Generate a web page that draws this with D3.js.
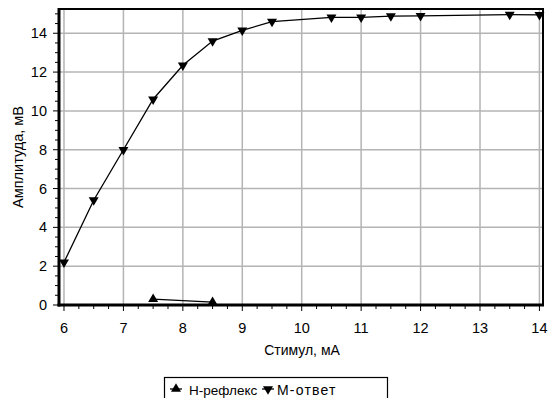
<!DOCTYPE html>
<html>
<head>
<meta charset="utf-8">
<script src="https://cdn.jsdelivr.net/npm/d3@7"></script>
<style>
  html, body { margin: 0; padding: 0; background: #fff; }
  svg { display: block; font-family: "Liberation Sans", Arial, sans-serif; }
</style>
</head>
<body>
<svg id="chart" width="548" height="398"></svg>
<script>
// Stimulus intensity (mA) and response amplitudes (mV)
const hStim = [7.5, 8.5];
const hAmp = [0.3, 0.15];
const mStim = [6, 6.5, 7, 7.5, 8, 8.5, 9, 9.5, 10.5, 11, 11.5, 12, 13.5, 14];
const mAmp = [2.2, 5.4, 8.0, 10.6, 12.35, 13.6, 14.15, 14.6, 14.82, 14.82, 14.88, 14.9, 14.96, 14.95];
const xTicks = [6, 7, 8, 9, 10, 11, 12, 13, 14];
const yTicks = [0, 2, 4, 6, 8, 10, 12, 14];
const seriesNames = ["Н-рефлекс", "М-ответ"];
const xTitle = "Стимул, мА";
const yTitle = "Амплитуда, мВ";

const svg = d3.select("#chart");
const plotL = 59, plotR = 543, plotT = 9, plotB = 305;

const x = d3.scaleLinear().domain([5.916, 14.06]).range([plotL, plotR]);
const y = d3.scaleLinear().domain([0, 15.25]).range([plotB, plotT]);

// grid
const grid = svg.append("g").attr("stroke", "#b4b4b4").attr("stroke-width", 1.5);
grid.selectAll("line.v").data(xTicks).join("line")
  .attr("x1", d => x(d)).attr("x2", d => x(d)).attr("y1", plotT).attr("y2", plotB);
grid.selectAll("line.h").data(yTicks.filter(d => d > 0)).join("line")
  .attr("x1", plotL).attr("x2", plotR).attr("y1", d => y(d)).attr("y2", d => y(d));

// minor ticks
const xMinor = d3.range(6, 14.001, 0.25);
const yMinor = d3.range(0, 15.001, 0.5);
svg.append("g").attr("stroke", "#000").attr("stroke-width", 1)
  .selectAll("line").data(xMinor).join("line")
  .attr("x1", d => x(d)).attr("x2", d => x(d))
  .attr("y1", plotB).attr("y2", d => Number.isInteger(d) ? plotB + 6 : plotB + 4);
svg.append("g").attr("stroke", "#000").attr("stroke-width", 1)
  .selectAll("line").data(yMinor).join("line")
  .attr("y1", d => y(d)).attr("y2", d => y(d))
  .attr("x1", plotL).attr("x2", d => d % 2 === 0 ? plotL - 6 : plotL - 4);

// frame
svg.append("line").attr("x1", plotL).attr("x2", plotR + 1).attr("y1", plotT).attr("y2", plotT)
  .attr("stroke", "#000").attr("stroke-width", 2);
svg.append("line").attr("x1", plotR).attr("x2", plotR).attr("y1", plotT).attr("y2", plotB)
  .attr("stroke", "#000").attr("stroke-width", 2);
svg.append("line").attr("x1", plotL).attr("x2", plotL).attr("y1", plotT - 1).attr("y2", plotB + 1.5)
  .attr("stroke", "#000").attr("stroke-width", 3);
svg.append("line").attr("x1", plotL - 1.5).attr("x2", plotR + 1).attr("y1", plotB).attr("y2", plotB)
  .attr("stroke", "#000").attr("stroke-width", 3);

// tick labels
svg.append("g").selectAll("text").data(xTicks).join("text")
  .attr("x", d => x(d)).attr("y", 333)
  .attr("text-anchor", "middle").attr("font-size", 14.5)
  .text(d => d);
svg.append("g").selectAll("text").data(yTicks).join("text")
  .attr("x", 47).attr("y", d => y(d) + 5)
  .attr("text-anchor", "end").attr("font-size", 14.5)
  .text(d => d);

// axis titles
svg.append("text").attr("x", 302).attr("y", 355)
  .attr("text-anchor", "middle").attr("font-size", 14).text(xTitle);
svg.append("text").attr("transform", "translate(23,157) rotate(-90)")
  .attr("text-anchor", "middle").attr("font-size", 14.5).text(yTitle);

// markers
const tri = (cx, cy, up, s = 10) => {
  const h = s * 0.85;
  return up
    ? `M${cx},${cy - h * 2 / 3}L${cx + s / 2},${cy + h / 3}L${cx - s / 2},${cy + h / 3}Z`
    : `M${cx},${cy + h * 2 / 3}L${cx + s / 2},${cy - h / 3}L${cx - s / 2},${cy - h / 3}Z`;
};

const line = d3.line().x(d => x(d[0])).y(d => y(d[1]));
const mData = mStim.map((s, i) => [s, mAmp[i]]);
const hData = hStim.map((s, i) => [s, hAmp[i]]);

svg.append("path").attr("d", line(mData)).attr("fill", "none").attr("stroke", "#000").attr("stroke-width", 1.3);
svg.append("path").attr("d", line(hData)).attr("fill", "none").attr("stroke", "#000").attr("stroke-width", 1.3);

svg.append("g").selectAll("path").data(mData).join("path")
  .attr("d", d => tri(x(d[0]), y(d[1]), false)).attr("fill", "#000");
svg.append("g").selectAll("path").data(hData).join("path")
  .attr("d", d => tri(x(d[0]), y(d[1]), true)).attr("fill", "#000");

// legend
const lg = svg.append("g");
lg.append("rect").attr("x", 164.5).attr("y", 377.5).attr("width", 223).attr("height", 30)
  .attr("fill", "#fff").attr("stroke", "#000").attr("stroke-width", 1.2);
const items = [
  { name: seriesNames[0], up: true, mx: 176, tx: 189, fs: 13.5, ls: 0 },
  { name: seriesNames[1], up: false, mx: 268, tx: 277, fs: 14, ls: 1.2 }
];
items.forEach(it => {
  lg.append("line").attr("x1", it.mx - 6).attr("x2", it.mx + 6).attr("y1", 389).attr("y2", 389)
    .attr("stroke", "#000").attr("stroke-width", 1.3);
  lg.append("path").attr("d", tri(it.mx, 389, it.up)).attr("fill", "#000");
  lg.append("text").attr("x", it.tx).attr("y", 395).attr("font-size", it.fs)
    .attr("letter-spacing", it.ls).text(it.name);
});
</script>
</body>
</html>
